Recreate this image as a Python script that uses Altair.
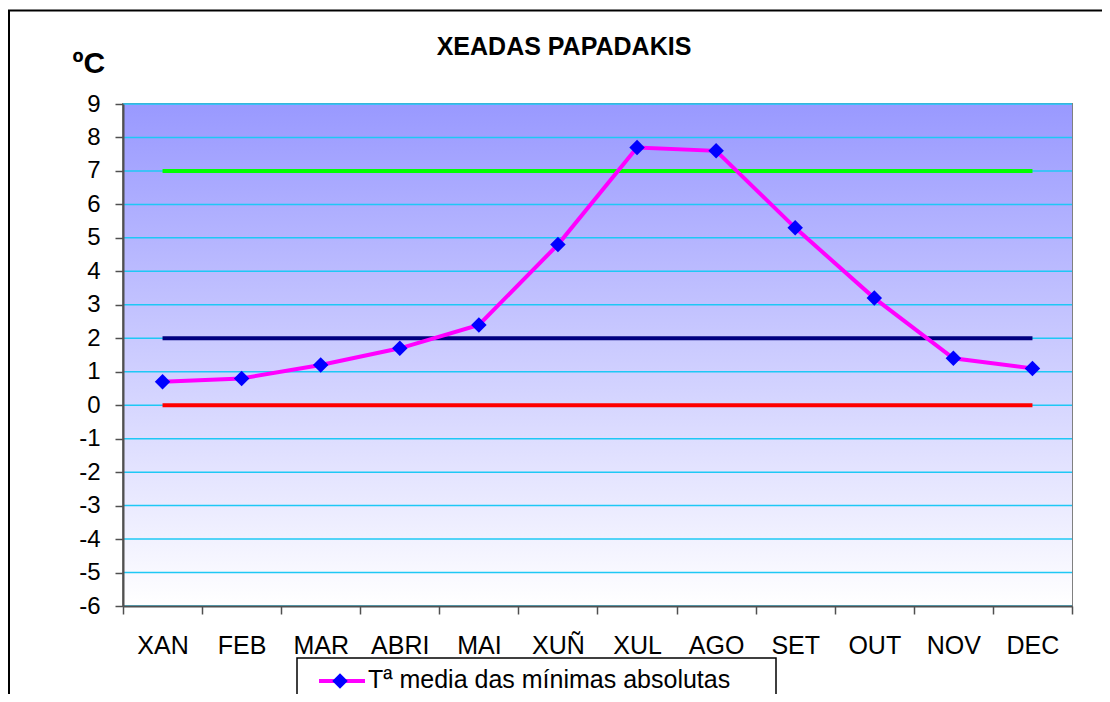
import altair as alt
import pandas as pd

# ---- data ----
meses = ["XAN", "FEB", "MAR", "ABRI", "MAI", "XUÑ", "XUL", "AGO", "SET", "OUT", "NOV", "DEC"]
tmin = [0.7, 0.8, 1.2, 1.7, 2.4, 4.8, 7.7, 7.6, 5.3, 3.2, 1.4, 1.1]
limiares = [7, 2, 0]
cores_limiares = ["#00FF00", "#000080", "#FF0000"]
y_ticks = list(range(-6, 10))
serie = "Tª media das mínimas absolutas"
titulo = "XEADAS PAPADAKIS"
unidade = "ºC"

W, H = 949, 502
FONT = "Liberation Sans"

df = pd.DataFrame({"mes": meses, "t": tmin})
df_lim = pd.DataFrame({"v": limiares, "cor": cores_limiares,
                       "ini": [meses[0]] * len(limiares), "fin": [meses[-1]] * len(limiares)})
df_grid = pd.DataFrame({"v": y_ticks})
one = pd.DataFrame({"a": [0]})
df_leg = pd.DataFrame({"s": [serie]})
df_tit = pd.DataFrame({"s": [titulo]})

x_scale = alt.Scale(domain=meses, paddingInner=0, paddingOuter=0)
y_scale = alt.Scale(domain=[-6, 9], nice=False, zero=False)

x_axis = alt.Axis(title=None, labelFontSize=25, labelFont=FONT, labelColor="black",
                  labelBaseline="alphabetic", labelPadding=39, labelAngle=0,
                  tickSize=8, tickBand="extent", tickColor="#505050", tickWidth=1.5,
                  domainColor="#505050", domainWidth=2, grid=False, zindex=1)
y_axis = alt.Axis(values=y_ticks, title=unidade, titleAngle=0, titleAlign="left",
                  titleBaseline="alphabetic", titleX=-51, titleY=-32, titleFontSize=30,
                  titleFontWeight="bold", titleFont=FONT, titleColor="black",
                  labelFontSize=24, labelFont=FONT, labelColor="black", labelPadding=15,
                  labelExpr="'' + datum.value",
                  tickSize=8, tickColor="#505050", tickWidth=1.5,
                  domainColor="#505050", domainWidth=2, grid=False, zindex=1)

X = lambda f: alt.X(f, type="nominal", scale=x_scale, axis=x_axis, sort=meses)
Y = lambda f: alt.Y(f, type="quantitative", scale=y_scale, axis=y_axis)

grad = alt.Gradient(gradient="linear", x1=0, x2=0, y1=0, y2=1,
                    stops=[alt.GradientStop(color="#9999FF", offset=0),
                           alt.GradientStop(color="#FFFFFF", offset=1)])

bg = alt.Chart(one).mark_rect(fill=grad).encode(
    x=alt.value(0), x2=alt.value(W), y=alt.value(0), y2=alt.value(H))

grid = alt.Chart(df_grid).mark_rule(color="#1EC8F5", strokeWidth=1.5).encode(
    y=Y("v"), x=alt.value(0), x2=alt.value(W))

rules = alt.Chart(df_lim).mark_rule(strokeWidth=4).encode(
    x=X("ini"), x2="fin", y=Y("v"), color=alt.Color("cor:N", scale=None, legend=None))

line = alt.Chart(df).mark_line(color="#FF00FF", strokeWidth=4).encode(x=X("mes"), y=Y("t"))
pts = alt.Chart(df).mark_point(shape="diamond", filled=True, color="#0000FF",
                               size=240, opacity=1).encode(x=X("mes"), y=Y("t"))

# title
tit = alt.Chart(df_tit).mark_text(align="center", baseline="alphabetic", font=FONT,
                                  fontSize=25, fontWeight="bold", color="black").encode(
    x=alt.value(441), y=alt.value(-49), text="s:N")

# legend box (drawn)
leg_box = alt.Chart(one).mark_rect(fill="white", stroke="black", strokeWidth=1.5).encode(
    x=alt.value(174), x2=alt.value(653), y=alt.value(554), y2=alt.value(620))
leg_line = alt.Chart(one).mark_rule(color="#FF00FF", strokeWidth=4).encode(
    x=alt.value(196), x2=alt.value(242), y=alt.value(577))
leg_pt = alt.Chart(one).mark_point(shape="diamond", filled=True, color="#0000FF",
                                   size=240, opacity=1).encode(x=alt.value(217), y=alt.value(577))
leg_txt = alt.Chart(df_leg).mark_text(align="left", baseline="alphabetic", font=FONT,
                                      fontSize=25, color="black").encode(
    x=alt.value(245), y=alt.value(584), text="s:N")

# outer frame lines
frame_top = alt.Chart(one).mark_rule(color="black", strokeWidth=2).encode(
    x=alt.value(-115), x2=alt.value(979), y=alt.value(-93.5))
frame_left = alt.Chart(one).mark_rule(color="black", strokeWidth=2).encode(
    x=alt.value(-114), y=alt.value(-93.5), y2=alt.value(600))

chart = alt.layer(bg, grid, rules, line, pts, tit, leg_box, leg_line, leg_pt, leg_txt,
                  frame_top, frame_left).properties(
    width=W, height=H,
    autosize=alt.AutoSizeParams(type="none"),
    padding={"left": 115, "top": 96, "right": 30, "bottom": 88},
    background="white",
).configure_view(stroke="#808080", strokeWidth=2)

chart.save("out.html", embed_options={"renderer": "svg", "actions": False})
